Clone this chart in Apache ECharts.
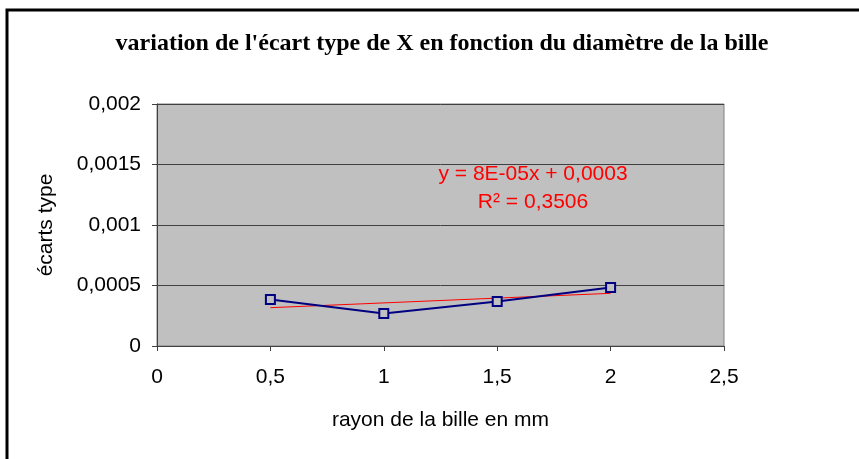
<!DOCTYPE html>
<html>
<head>
<meta charset="utf-8">
<script src="https://cdn.jsdelivr.net/npm/echarts@6/dist/echarts.min.js"></script>
<style>
  html, body { margin: 0; padding: 0; background: #fff; }
  #chart { width: 859px; height: 459px; }
</style>
</head>
<body>
<div id="chart"></div>
<script>
// Bead radius (mm) and the standard deviation of X measured for each
const rayons = [0.5, 1, 1.5, 2];
const ecartsType = [0.000384, 0.000269, 0.000368, 0.000483];
const xTicks = { min: 0, max: 2.5, interval: 0.5 };
const yTicks = { min: 0, max: 0.002, interval: 0.0005 };

// Least-squares linear trend through the measurements
function linearFit(xs, ys) {
  const n = xs.length;
  const mx = xs.reduce((a, b) => a + b, 0) / n;
  const my = ys.reduce((a, b) => a + b, 0) / n;
  let sxy = 0, sxx = 0;
  for (let i = 0; i < n; i++) {
    sxy += (xs[i] - mx) * (ys[i] - my);
    sxx += (xs[i] - mx) * (xs[i] - mx);
  }
  const slope = sxy / sxx;
  return { slope, intercept: my - slope * mx };
}
const fit = linearFit(rayons, ecartsType);
const trendX = [rayons[0], rayons[rayons.length - 1]];
const trendData = trendX.map(x => [x, fit.intercept + fit.slope * x]);

const comma = v => String(v).replace('.', ',');
const sans = 'Liberation Sans, Arial, sans-serif';

const chart = echarts.init(document.getElementById('chart'));
chart.setOption({
  animation: false,
  backgroundColor: '#ffffff',
  title: {
    text: "variation de l'écart type de X en fonction du diamètre de la bille",
    left: 437,
    textAlign: 'center',
    top: 27,
    textStyle: { fontFamily: 'Liberation Serif, Times New Roman, serif', fontWeight: 'bold', fontSize: 24, color: '#000' }
  },
  graphic: [{
    type: 'rect',
    shape: { x: 7, y: 10, width: 900, height: 500 },
    style: { fill: 'none', stroke: '#000', lineWidth: 3 },
    silent: true
  }],
  grid: {
    left: 157, right: 135, top: 104, bottom: 113,
    show: true, backgroundColor: '#c0c0c0', borderColor: '#808080', borderWidth: 1
  },
  xAxis: {
    type: 'value',
    min: xTicks.min, max: xTicks.max, interval: xTicks.interval,
    name: 'rayon de la bille en mm',
    nameLocation: 'middle', nameGap: 64,
    nameTextStyle: { fontFamily: sans, fontSize: 21, color: '#000' },
    axisLine: { onZero: false, lineStyle: { color: '#404040', width: 1 } },
    axisTick: { show: true, length: 5, lineStyle: { color: '#404040' } },
    axisLabel: { formatter: comma, margin: 21, fontFamily: sans, fontSize: 21, color: '#000' },
    splitLine: { show: false }
  },
  yAxis: {
    type: 'value',
    min: yTicks.min, max: yTicks.max, interval: yTicks.interval,
    name: 'écarts type',
    nameLocation: 'middle', nameGap: 100,
    nameTextStyle: { fontFamily: sans, fontSize: 21, color: '#000' },
    axisLine: { show: true, lineStyle: { color: '#404040', width: 1 } },
    axisTick: { show: true, length: 5, lineStyle: { color: '#404040' } },
    axisLabel: { formatter: comma, margin: 16, fontFamily: sans, fontSize: 21, color: '#000' },
    splitLine: { show: true, lineStyle: { color: '#404040', width: 1 } }
  },
  series: [
    {
      name: 'écarts type',
      type: 'line',
      data: rayons.map((x, i) => [x, ecartsType[i]]),
      symbol: 'rect', symbolSize: 9,
      lineStyle: { color: '#000080', width: 2 },
      itemStyle: { color: '#c0c0c0', borderColor: '#000080', borderWidth: 2 },
      z: 3
    },
    {
      name: 'tendance',
      type: 'line',
      data: trendData,
      symbol: 'none',
      lineStyle: { color: '#ff0000', width: 1 },
      z: 2,
      markPoint: {
        symbol: 'circle', symbolSize: 0,
        data: [{ coord: [1.658, 0.001306] }],
        label: {
          show: true, position: 'inside',
          formatter: 'y = 8E-05x + 0,0003\nR² = 0,3506',
          fontFamily: sans, fontSize: 21, lineHeight: 28, color: '#ff0000', align: 'center'
        }
      }
    }
  ]
});
</script>
</body>
</html>
